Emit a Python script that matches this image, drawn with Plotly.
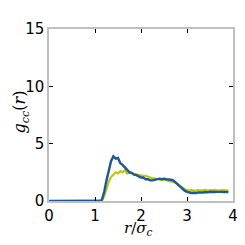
import plotly.graph_objects as go

r_vals = [round(0.05 * i, 2) for i in range(81)]

g_blue = [0]*23 + [0.1, 0.8, 1.8, 2.8, 3.5, 3.9, 3.7, 3.75, 3.3, 3.15, 2.9, 2.75, 2.5, 2.45, 2.3, 2.25, 2.15, 2.05, 2.05, 1.9, 1.9, 1.8, 1.8, 1.85, 1.85, 1.95, 1.9, 1.95, 1.9, 1.9, 1.85, 1.8, 1.65, 1.45, 1.25, 1.05, 0.9, 0.8, 0.75, 0.7, 0.72, 0.7, 0.75, 0.72, 0.74, 0.78, 0.75, 0.8, 0.76, 0.78, 0.8, 0.77, 0.8, 0.78, 0.8, 0.79]
g_yellow = [0]*23 + [0.05, 0.4, 1.1, 1.7, 2.1, 2.3, 2.5, 2.4, 2.6, 2.5, 2.7, 2.4, 2.5, 2.4, 2.35, 2.3, 2.3, 2.25, 2.2, 2.2, 2.1, 2.05, 2.0, 1.95, 1.9, 1.9, 1.85, 1.85, 1.8, 1.8, 1.75, 1.7, 1.6, 1.45, 1.3, 1.15, 1.05, 0.95, 0.9, 0.95, 0.9, 0.92, 0.95, 0.9, 0.93, 0.97, 0.9, 0.95, 0.92, 0.96, 0.93, 0.9, 0.95, 0.92, 0.93, 0.9]

x_ticks = [0, 1, 2, 3, 4]
y_ticks = [0, 5, 10, 15]

fig = go.Figure()
fig.add_trace(go.Scatter(x=r_vals, y=g_yellow, mode="lines",
                         line=dict(color="#c3c314", width=2.2), showlegend=False))
fig.add_trace(go.Scatter(x=r_vals, y=g_blue, mode="lines",
                         line=dict(color="#1a5896", width=2.4), showlegend=False))

axis_common = dict(showline=True, linecolor="#bfbfbf", linewidth=1.5, mirror="ticks",
                   ticks="inside", ticklen=4, tickcolor="black", tickwidth=1,
                   showgrid=False, zeroline=False, automargin=False,
                   ticklabeloverflow="allow",
                   tickfont=dict(family="DejaVu Sans", size=15, color="black"))

fig.update_xaxes(range=[0, 4], tickvals=x_ticks, **axis_common)
fig.update_yaxes(range=[0, 15], tickvals=y_ticks, **axis_common)

fig.add_annotation(text="<i>r</i>/<i>σ</i><sub><i>c</i></sub>", xref="paper", yref="paper",
                   x=0.484, y=-0.162, xanchor="center", yanchor="middle", showarrow=False,
                   font=dict(family="DejaVu Serif", size=15, color="black"))
fig.add_annotation(text="<i>g</i><sub><i>cc</i></sub>(<i>r</i>)", xref="paper", yref="paper",
                   x=-0.155, y=0.517, xanchor="center", yanchor="middle", textangle=-90,
                   showarrow=False,
                   font=dict(family="DejaVu Serif", size=16, color="black"))

# page body has an 8px margin, so the figure is sized/offset to compensate
fig.update_layout(width=229, height=229, margin=dict(l=41, r=4, t=21, b=36, autoexpand=False),
                  plot_bgcolor="white", paper_bgcolor="white")

fig.write_html("out.html")
